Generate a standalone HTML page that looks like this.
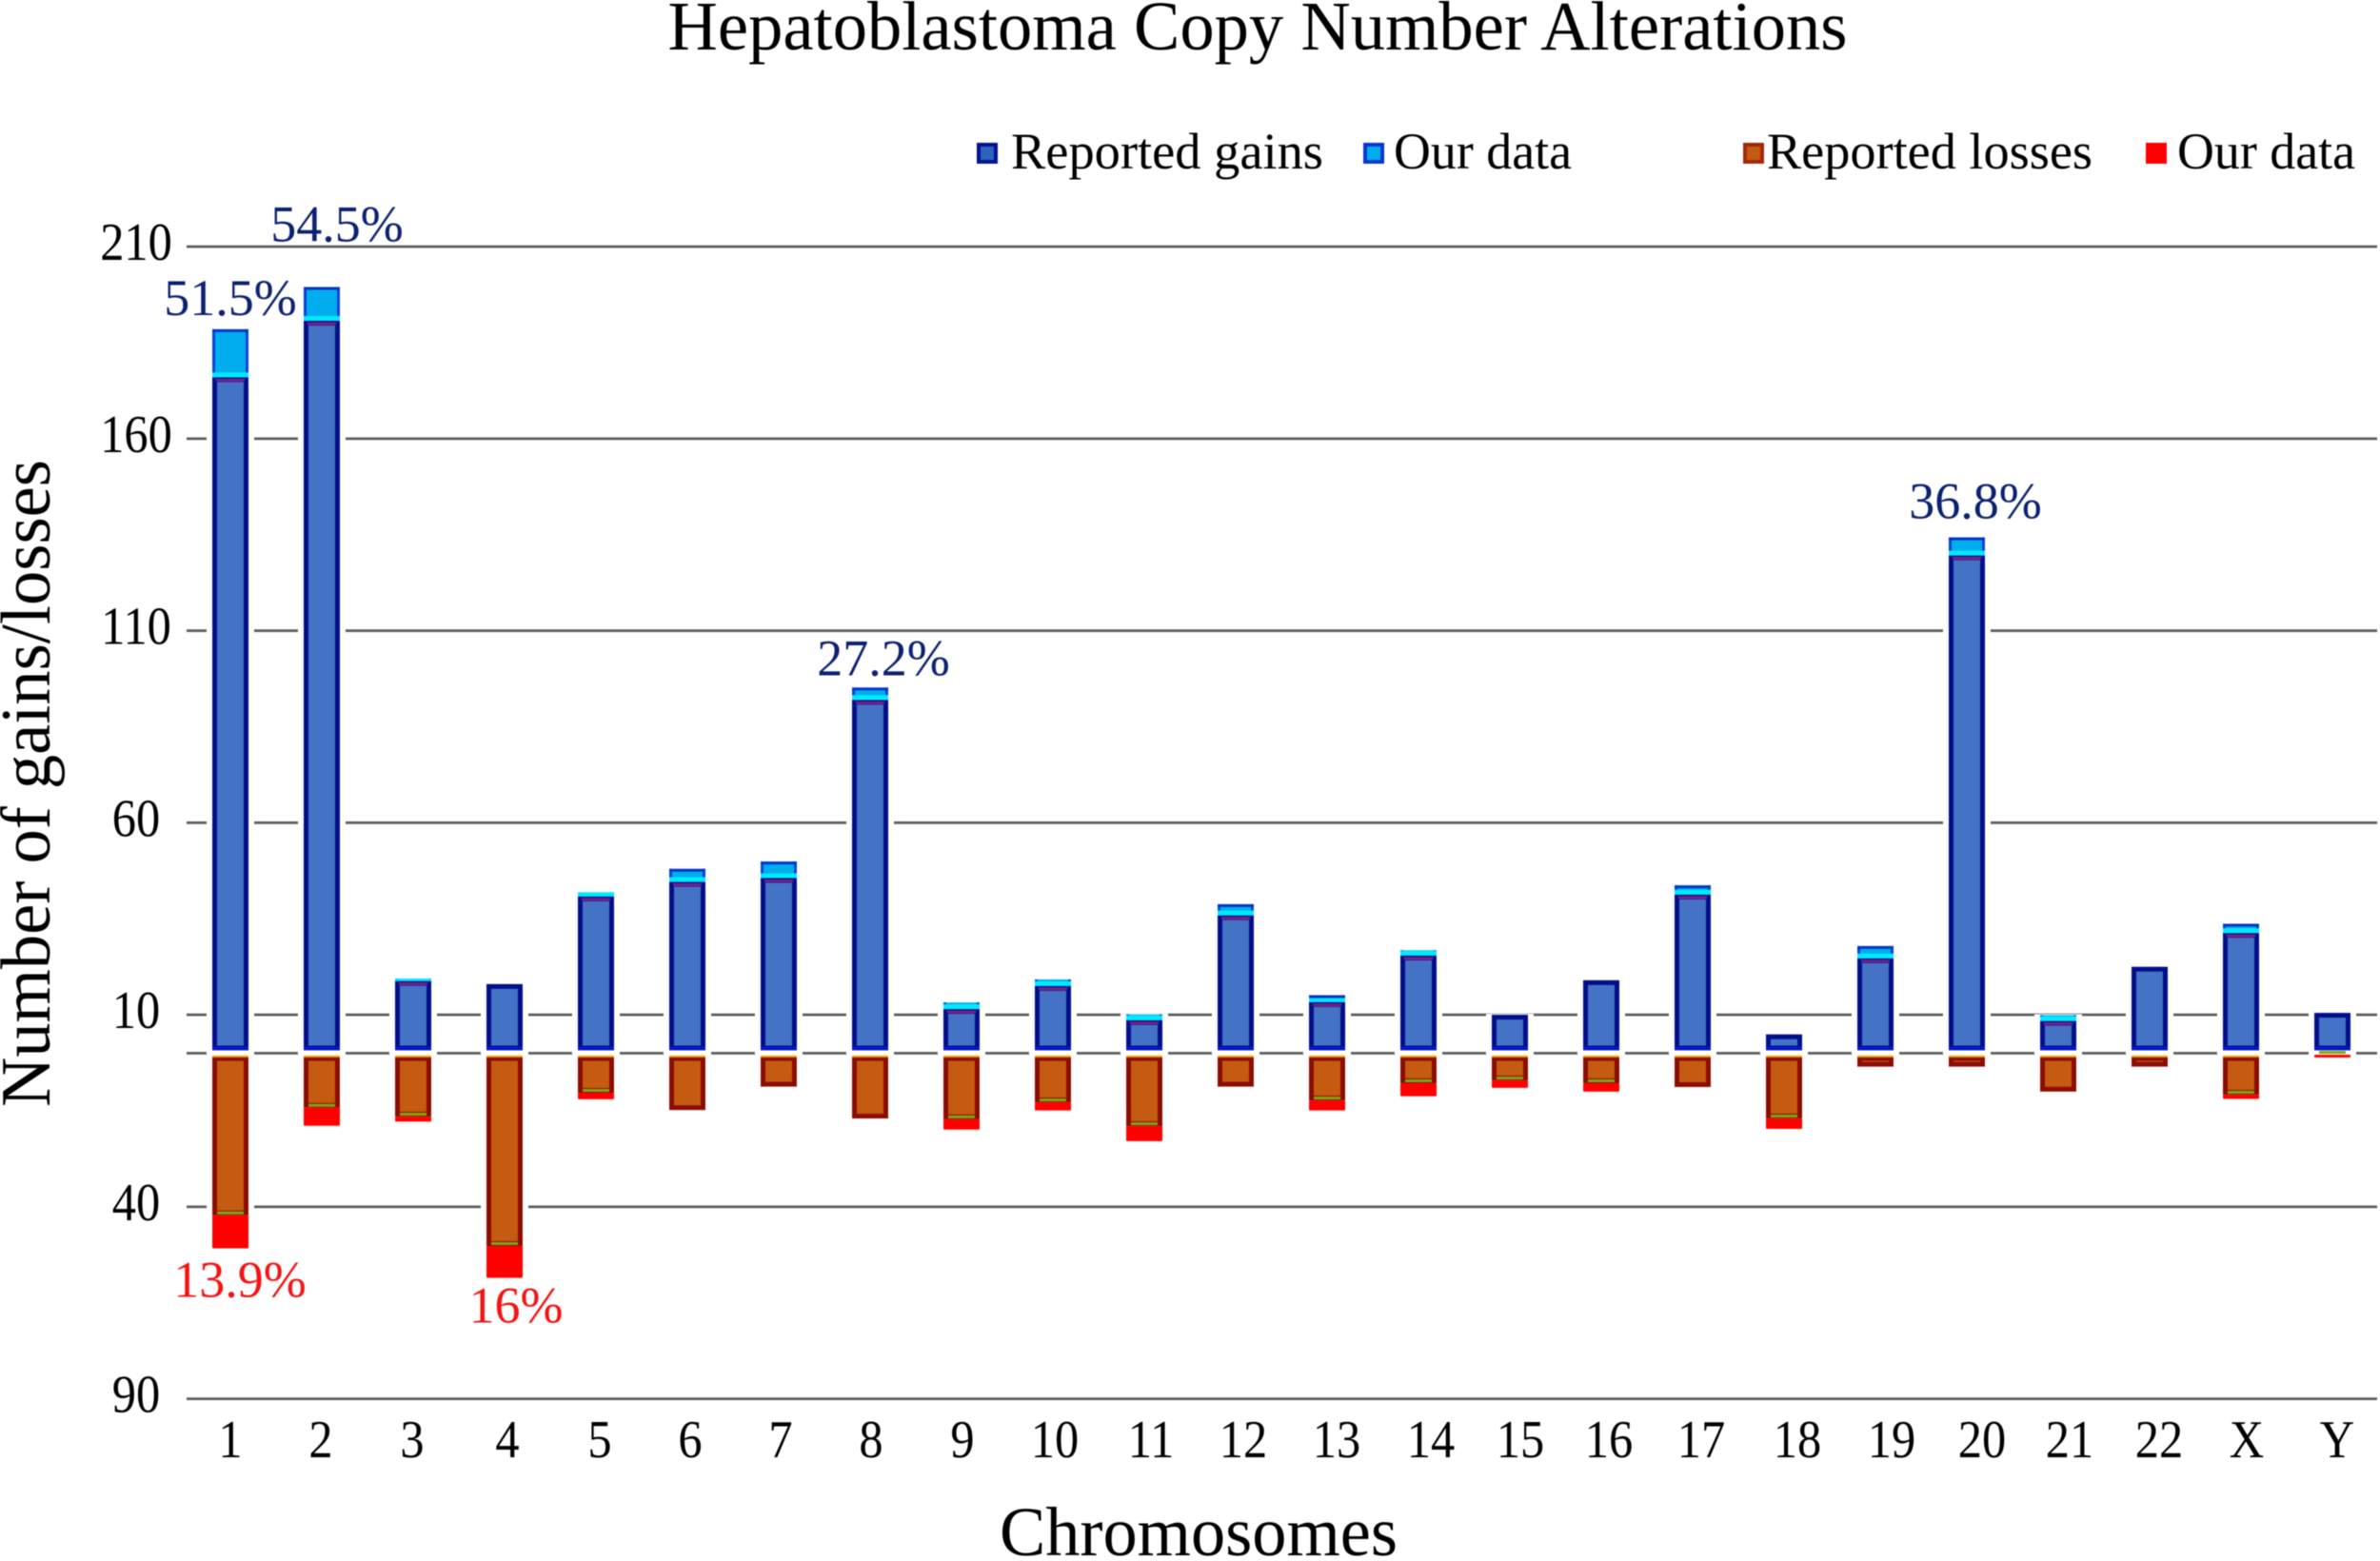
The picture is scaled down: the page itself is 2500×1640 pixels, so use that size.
<!DOCTYPE html>
<html lang="en">
<head>
<meta charset="utf-8">
<title>Hepatoblastoma Copy Number Alterations</title>
<style>
html,body{margin:0;padding:0;background:#fff;}
body{width:2500px;height:1640px;overflow:hidden;}
svg{display:block;filter:blur(0.5px);}
text{font-family:"Liberation Serif",serif;}
</style>
</head>
<body>
<svg id="chart" xmlns="http://www.w3.org/2000/svg" width="2500" height="1640" viewBox="0 0 2500 1640">
  <rect x="0" y="0" width="2500" height="1640" fill="#ffffff"/>
  <text x="1321" y="52" font-size="73" text-anchor="middle" fill="#000" textLength="1239" lengthAdjust="spacingAndGlyphs">Hepatoblastoma Copy Number Alterations</text>

  <g>
    <g>
      <rect x="1028" y="152" width="18" height="18" fill="#2f62bd" stroke="#04128f" stroke-width="4"/>
      <text x="1062" y="177" font-size="54" fill="#000" textLength="328" lengthAdjust="spacingAndGlyphs">Reported gains</text>
    </g>
    <g>
      <rect x="1434" y="152" width="18" height="18" fill="#00aeef" stroke="#0438d0" stroke-width="4"/>
      <text x="1464" y="177" font-size="54" fill="#000" textLength="187" lengthAdjust="spacingAndGlyphs">Our data</text>
    </g>
    <g>
      <rect x="1833" y="152" width="18" height="18" fill="#c55a11" stroke="#a02a08" stroke-width="4"/>
      <text x="1856" y="177" font-size="54" fill="#000" textLength="342" lengthAdjust="spacingAndGlyphs">Reported losses</text>
    </g>
    <g>
      <rect x="2254" y="150" width="22" height="22" fill="#ff0000"/>
      <text x="2287" y="177" font-size="54" fill="#000" textLength="187" lengthAdjust="spacingAndGlyphs">Our data</text>
    </g>
  </g>

  <g id="grid"></g>
  <g id="yticks"></g>
  <g id="bars"></g>
  <g id="xticks"></g>
  <g id="labels"></g>

  <text transform="translate(52 823) rotate(-90)" font-size="74" text-anchor="middle" fill="#000" textLength="680" lengthAdjust="spacingAndGlyphs">Number of gains/losses</text>
  <text x="1259" y="1634" font-size="73" text-anchor="middle" fill="#000" textLength="418" lengthAdjust="spacingAndGlyphs">Chromosomes</text>
</svg>
<script>
const chromosomes = ['1','2','3','4','5','6','7','8','9','10','11','12','13','14','15','16','17','18','19','20','21','22','X','Y'];
const reportedGains = [176,190.7,18.8,18,40.8,44.6,45.6,92,11.5,17.5,8.6,35.9,13.3,25.4,10,19,41.3,4.9,24.7,129.6,8.4,22.5,31.3,10.5];
const ourGains = [12.5,8.8,0.6,0,1.1,3.4,4.3,3.2,1.7,1.7,1.5,2.9,1.8,1.4,0,0,2.4,0,3.2,4.7,1.5,0,2.4,0];
const reportedLosses = [42.2,14.2,16.5,50.2,10.3,14.8,8.7,17,17.2,12.8,19,8.7,12.3,7.8,7.1,7.8,8.8,17,3.5,3.5,10,3.5,10.8,0.4];
const ourLosses = [8.6,4.7,1.3,8.3,1.7,0,0,0,2.7,2.1,3.9,0,2.6,3.4,1.9,2.2,0,2.7,0,0,0,0,1.1,0.7];
const tickValues = [210,160,110,60,10,0,-40,-90];
const tickLabels = ['210','160','110','60','10','','40','90'];
const gainPercentLabels = ['51.5%','54.5%','','','','','','27.2%','','','','','','','','','','','','36.8%','','','',''];
const lossPercentLabels = ['13.9%','','','16%','','','','','','','','','','','','','','','','','','','',''];

const NS = 'http://www.w3.org/2000/svg';
const PLOT_LEFT = 196, PLOT_RIGHT = 2497, FIRST_CENTER = 242, BAND = 96, BAR_W = 38;
const ZERO_Y = 1106.5, PX_PER_UNIT = 4.035, ZERO_GAP = 3, EDGE = 5;
const tickNudge = [0,-1,-1,3,4,3,2,1,1,2,7,8,10,13,11,8,9,14,17,16,12,10,6,5];
const gainLabelNudge = {0:[0,-15],1:[16,-48],7:[14,-13],19:[9,-20]};
const lossLabelNudge = {0:[10,51],3:[12,47]};

function xCenter(i){ return FIRST_CENTER + i * BAND; }
function yScale(v){ return ZERO_Y - v * PX_PER_UNIT; }

function make(parent, tag, attrs){
  const el = document.createElementNS(NS, tag);
  Object.keys(attrs).forEach(function(k){ el.setAttribute(k, attrs[k]); });
  parent.appendChild(el);
  return el;
}

const grid = document.getElementById('grid');
const yticks = document.getElementById('yticks');
tickValues.forEach(function(v, i){
  const line = make(grid, 'line', {x1:PLOT_LEFT, x2:PLOT_RIGHT, y1:yScale(v), y2:yScale(v), stroke:'#5c5c5c', 'stroke-width':2.8});
  
  
  if (tickLabels[i]) {
    const t = make(yticks, 'text', {transform:'translate(143 ' + (yScale(v) + 14) + ') scale(0.9 1)', 'font-size':56, 'text-anchor':'middle', fill:'#000'});
    
    
    t.textContent = tickLabels[i];
  }
});

const barsG = document.getElementById('bars');
const xticks = document.getElementById('xticks');
const labelsG = document.getElementById('labels');

chromosomes.forEach(function(name, i){
  const cx = xCenter(i);
  const left = cx - BAR_W / 2;

  // gains
  const yRep = yScale(reportedGains[i]);
  const yTot = yScale(reportedGains[i] + ourGains[i]);
  const yBase = ZERO_Y - ZERO_GAP;
  const halo = make(barsG, 'rect', {x:left - 6, y:yTot - 1, width:BAR_W + 12, height:ZERO_Y + ZERO_GAP - yTot + 1, fill:'#ffffff'});
  
  
  const gain = make(barsG, 'rect', {x:left + EDGE / 2, y:yRep + EDGE / 2, width:BAR_W - EDGE, height:Math.max(0, yBase - yRep - EDGE), fill:'#4472c4', stroke:'#020f8c', 'stroke-width':EDGE});
  
  
  const base = make(barsG, 'rect', {x:left, y:yBase - 4, width:BAR_W, height:4, fill:'#0418c8'});
  
  
  if (ourGains[i] > 0) {
    const h = yRep - yTot;
    const rim = make(barsG, 'rect', {x:left + 4, y:yRep + 1.5, width:BAR_W - 8, height:3, fill:'#7a1f86'});
    
    
    const ours = make(barsG, 'rect', {x:left, y:yTot, width:BAR_W, height:h, fill:'#00aeef'});
    
    
    const sideL = make(barsG, 'rect', {x:left, y:yTot, width:3, height:h, fill:'#0644d8'});
    
    
    const sideR = make(barsG, 'rect', {x:left + BAR_W - 3, y:yTot, width:3, height:h, fill:'#0644d8'});
    
    
    const strip = make(barsG, 'rect', {x:left, y:yRep - Math.min(5, h), width:BAR_W, height:Math.min(5, h), fill:'#00eaff'});
    
    
    if (h > 7) {
      const cap = make(barsG, 'rect', {x:left, y:yTot, width:BAR_W, height:3, fill:'#0636c4'});
      
      
    }
  }

  // losses
  const yLossTop = ZERO_Y + ZERO_GAP;
  const yLossRep = yScale(-reportedLosses[i]);
  const yLossTot = yScale(-(reportedLosses[i] + ourLosses[i]));
  const lossHalo = make(barsG, 'rect', {x:left - 6, y:yLossTop - 1, width:BAR_W + 12, height:yLossTot - yLossTop + 2, fill:'#ffffff'});
  
  
  const loss = make(barsG, 'rect', {x:left + EDGE / 2, y:yLossTop + EDGE / 2, width:BAR_W - EDGE, height:Math.max(0, yLossRep - yLossTop - EDGE), fill:'#c55a11', stroke:'#8c0d00', 'stroke-width':EDGE});
  
  
  const lossTop = make(barsG, 'rect', {x:left, y:yLossTop - 0.5, width:BAR_W, height:2, fill:'#f0a000'});
  
  
  if (ourLosses[i] > 0) {
    const green = make(barsG, 'rect', {x:left + 5, y:yLossRep - 4, width:BAR_W - 10, height:3, fill:'#7ea810'});
    
    
    const oursLoss = make(barsG, 'rect', {x:left, y:yLossRep, width:BAR_W, height:yLossTot - yLossRep, fill:'#ff0000', rx:1});
    
    
  }

  // tick label
  const tick = make(xticks, 'text', {transform:'translate(' + (cx + tickNudge[i]) + ' 1531) scale(0.9 1)', 'font-size':56, 'text-anchor':'middle', fill:'#000'});
  
  
  tick.textContent = name;

  // percent annotations
  if (gainPercentLabels[i]) {
    const n = gainLabelNudge[i] || [0,-15];
    const gl = make(labelsG, 'text', {x:cx + n[0], y:yTot + n[1], 'font-size':54, 'text-anchor':'middle', fill:'#0c2170'});
    
    
    gl.textContent = gainPercentLabels[i];
  }
  if (lossPercentLabels[i]) {
    const m = lossLabelNudge[i] || [0,48];
    const ll = make(labelsG, 'text', {x:cx + m[0], y:yLossTot + m[1], 'font-size':54, 'text-anchor':'middle', fill:'#f41414'});
    
    
    ll.textContent = lossPercentLabels[i];
  }
});
</script>
</body>
</html>
